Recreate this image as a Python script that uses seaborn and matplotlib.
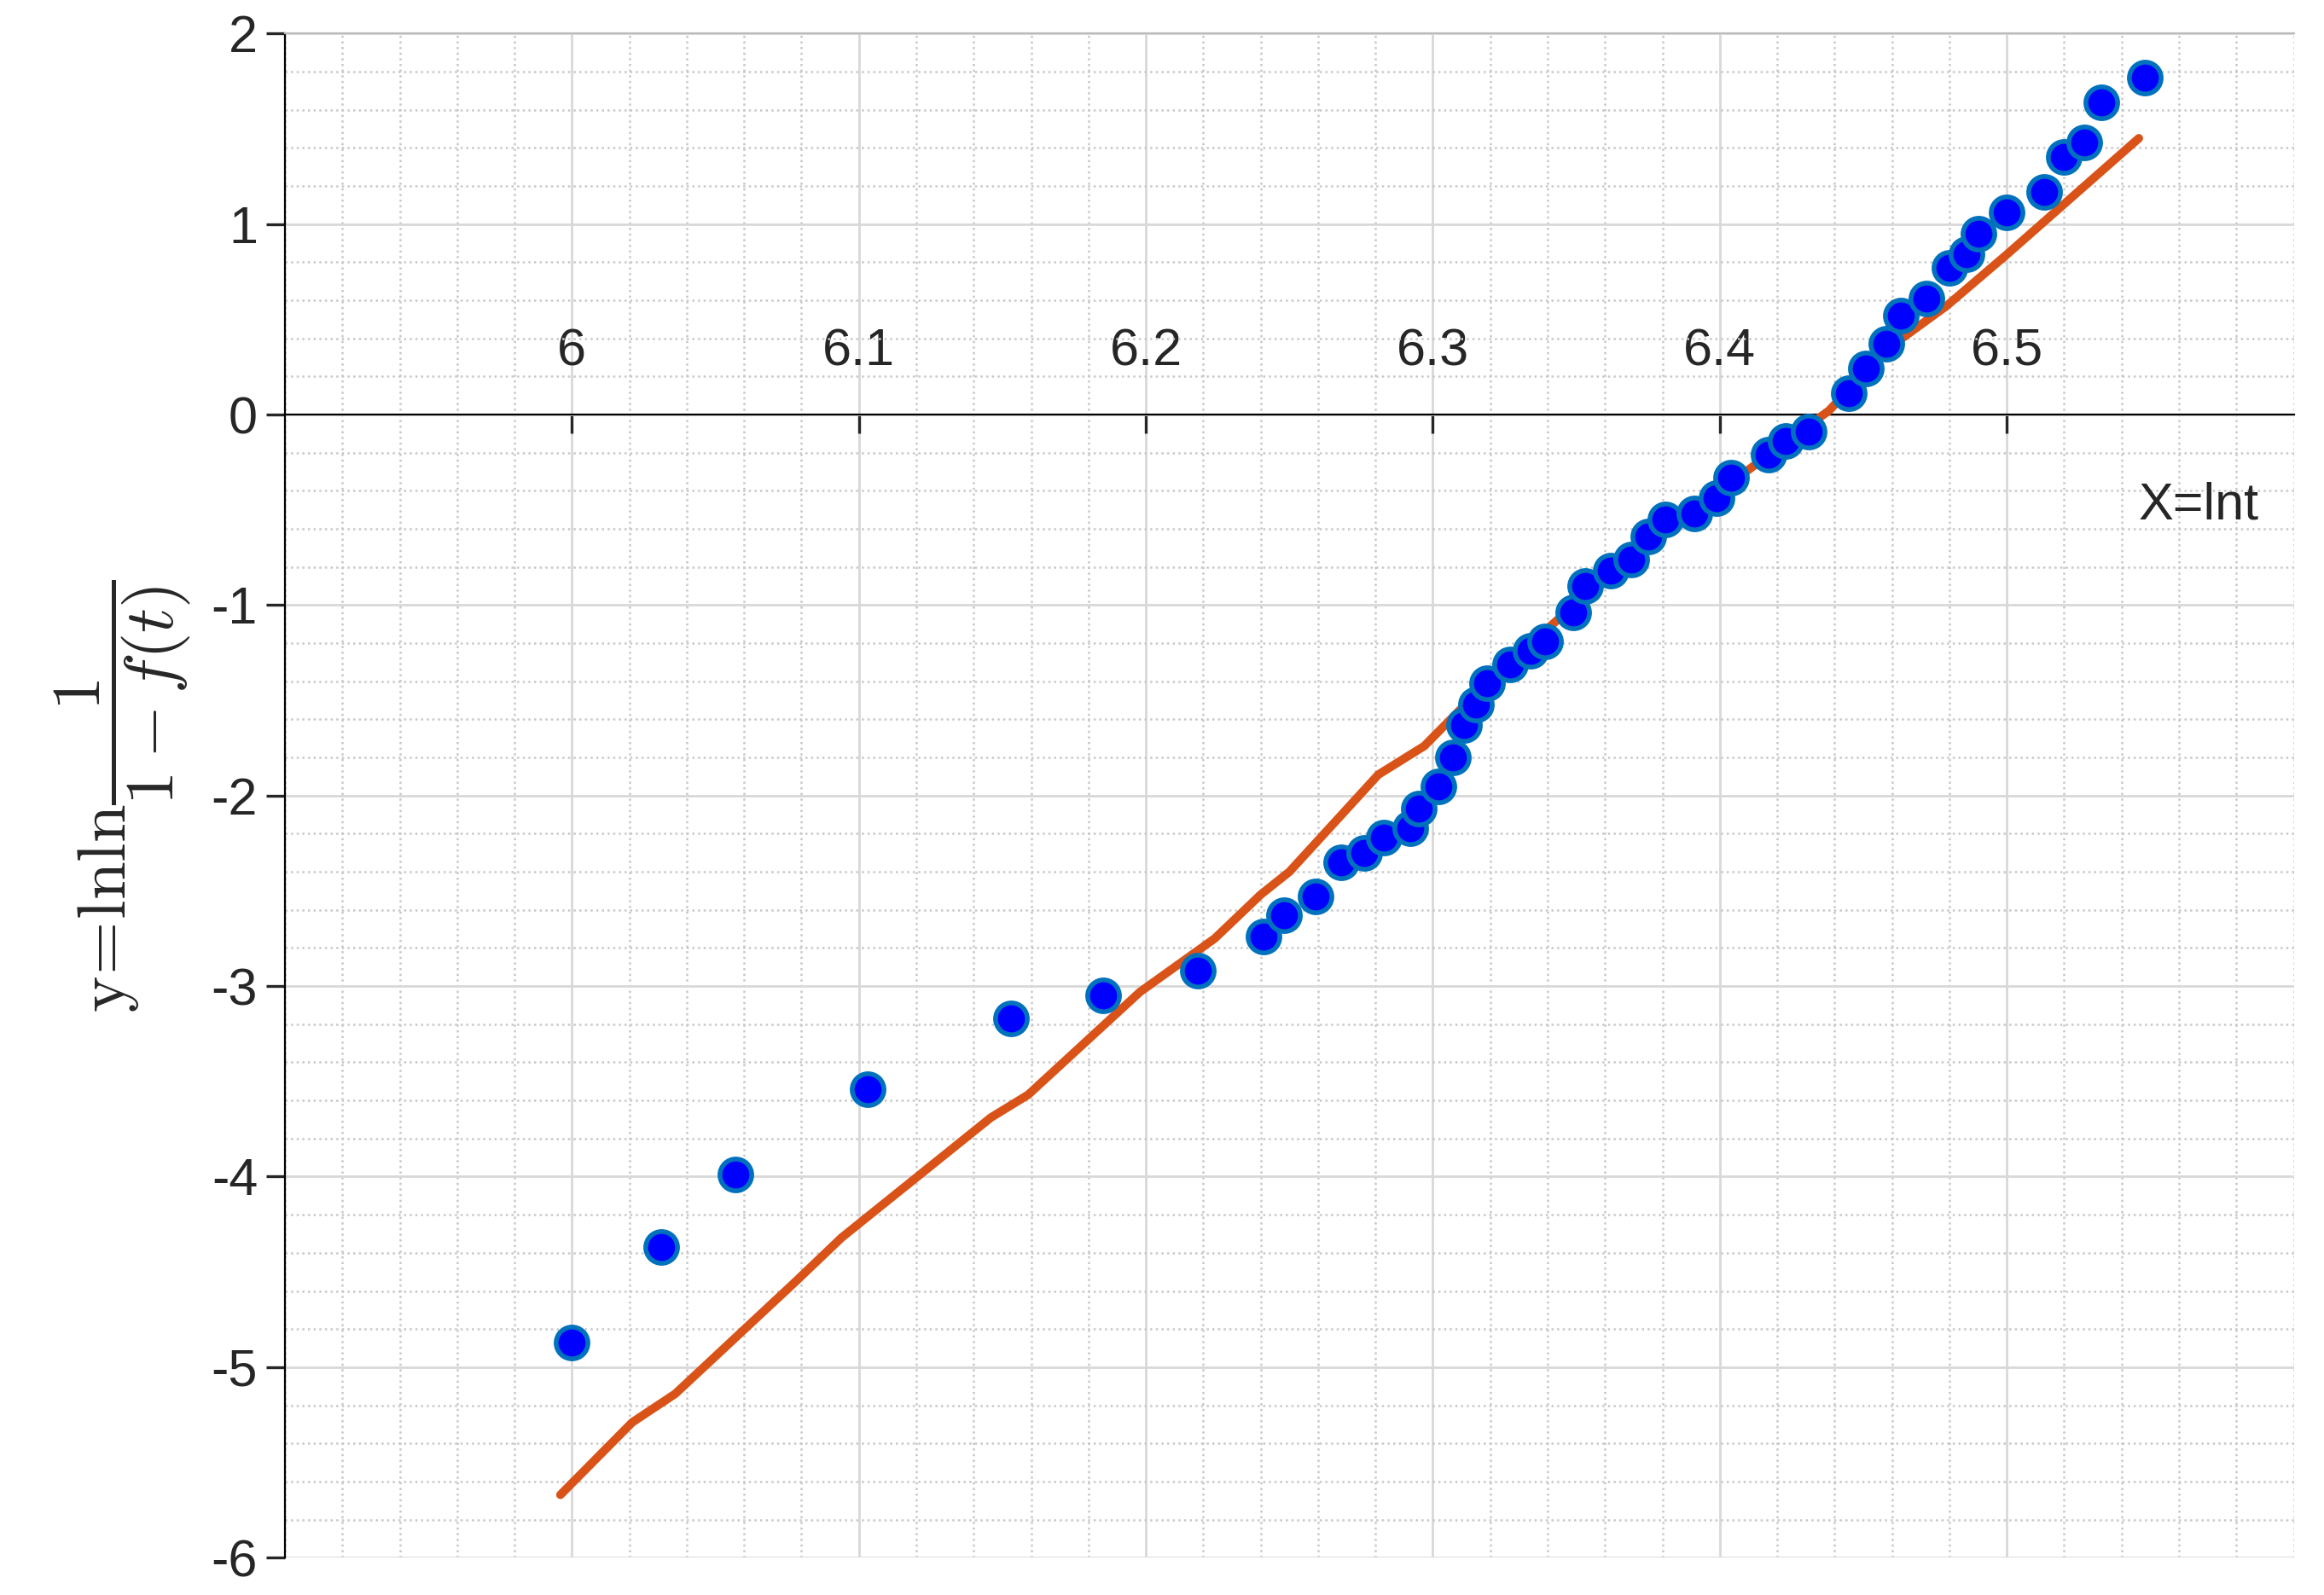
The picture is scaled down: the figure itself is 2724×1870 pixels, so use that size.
import numpy as np
import pandas as pd
import matplotlib
matplotlib.use("Agg")
import matplotlib.pyplot as plt
import seaborn as sns
from matplotlib.ticker import MultipleLocator

# scatter points: x = ln t, y = ln ln 1/(1-f(t))
pts_x = [6.000, 6.031, 6.057, 6.103, 6.153, 6.185, 6.218, 6.241, 6.248, 6.259,
         6.268, 6.276, 6.283, 6.292, 6.295, 6.302, 6.307, 6.311, 6.315, 6.319,
         6.327, 6.334, 6.339, 6.349, 6.353, 6.362, 6.369, 6.375, 6.381, 6.391,
         6.399, 6.404, 6.417, 6.423, 6.431, 6.445, 6.451, 6.458, 6.463, 6.472,
         6.480, 6.486, 6.490, 6.500, 6.513, 6.520, 6.527, 6.533, 6.548]
pts_y = [-4.87, -4.37, -3.99, -3.54, -3.17, -3.05, -2.92, -2.74, -2.63, -2.53,
         -2.35, -2.30, -2.22, -2.17, -2.07, -1.95, -1.80, -1.63, -1.52, -1.41,
         -1.31, -1.24, -1.19, -1.04, -0.90, -0.82, -0.76, -0.64, -0.55, -0.52,
         -0.44, -0.33, -0.21, -0.14, -0.09, 0.11, 0.24, 0.37, 0.52, 0.61,
         0.77, 0.84, 0.95, 1.06, 1.17, 1.35, 1.43, 1.64, 1.77]

# fitted line
fit_x = [5.996, 6.021, 6.036, 6.078, 6.094, 6.146, 6.159, 6.198, 6.224, 6.240,
         6.250, 6.281, 6.297, 6.318, 6.344, 6.375, 6.396, 6.417, 6.438, 6.458,
         6.479, 6.500, 6.546]
fit_y = [-5.67, -5.29, -5.14, -4.55, -4.32, -3.69, -3.57, -3.03, -2.75, -2.52,
         -2.40, -1.89, -1.74, -1.42, -1.07, -0.68, -0.45, -0.21, 0.02, 0.34,
         0.57, 0.84, 1.45]

x_ticks = [6, 6.1, 6.2, 6.3, 6.4, 6.5]
x_tick_labels = ["6", "6.1", "6.2", "6.3", "6.4", "6.5"]
y_ticks = [-6, -5, -4, -3, -2, -1, 0, 1, 2]

sns.set_style("white")
plt.rcParams["font.family"] = ["Arial", "Liberation Sans", "DejaVu Sans"]
plt.rcParams["mathtext.fontset"] = "cm"
plt.rcParams["axes.unicode_minus"] = False

fig = plt.figure(figsize=(13.62, 9.35), dpi=200)
ax = fig.add_axes([0.1226, 0.0234, 0.8644, 0.9556])

sns.lineplot(x=fit_x, y=fit_y, ax=ax, color="#D95319", linewidth=3.6, sort=False, zorder=3)
sns.scatterplot(x=pts_x, y=pts_y, ax=ax, color="#0000FF", edgecolor="#0072BD",
                linewidth=2, s=180, zorder=4)

ax.set_xlim(5.9, 6.6)
ax.set_ylim(-6, 2)
ax.set_xticks(x_ticks)
ax.set_xticklabels(x_tick_labels)
ax.set_yticks(y_ticks)
ax.xaxis.set_minor_locator(MultipleLocator(0.02))
ax.yaxis.set_minor_locator(MultipleLocator(0.2))
ax.grid(which="major", color="#d8d8d8", linewidth=1.0)
ax.grid(which="minor", color="#c8c8c8", linestyle=":", linewidth=0.9)
ax.set_axisbelow(True)

# x axis through the origin, labels above
ax.spines["bottom"].set_position(("data", 0))
ax.spines["bottom"].set_color("black")
ax.spines["left"].set_color("black")
ax.spines["top"].set_color("#bbbbbb")
ax.spines["right"].set_visible(False)
ax.tick_params(axis="x", which="major", direction="out", length=8, width=1.2,
               labelsize=22, pad=-24, bottom=True)
ax.tick_params(axis="y", which="major", direction="out", length=8, width=1.2,
               labelsize=22, left=True)
for lbl in ax.get_xticklabels():
    lbl.set_verticalalignment("bottom")

ax.text(6.588, -0.48, "X=lnt", fontsize=22, ha="right", va="center")
ax.set_ylabel(r"$\mathrm{y\!=\!lnln}\dfrac{1}{1-f(t)}$", fontsize=29, labelpad=8)

fig.savefig("out.png", dpi=200)
